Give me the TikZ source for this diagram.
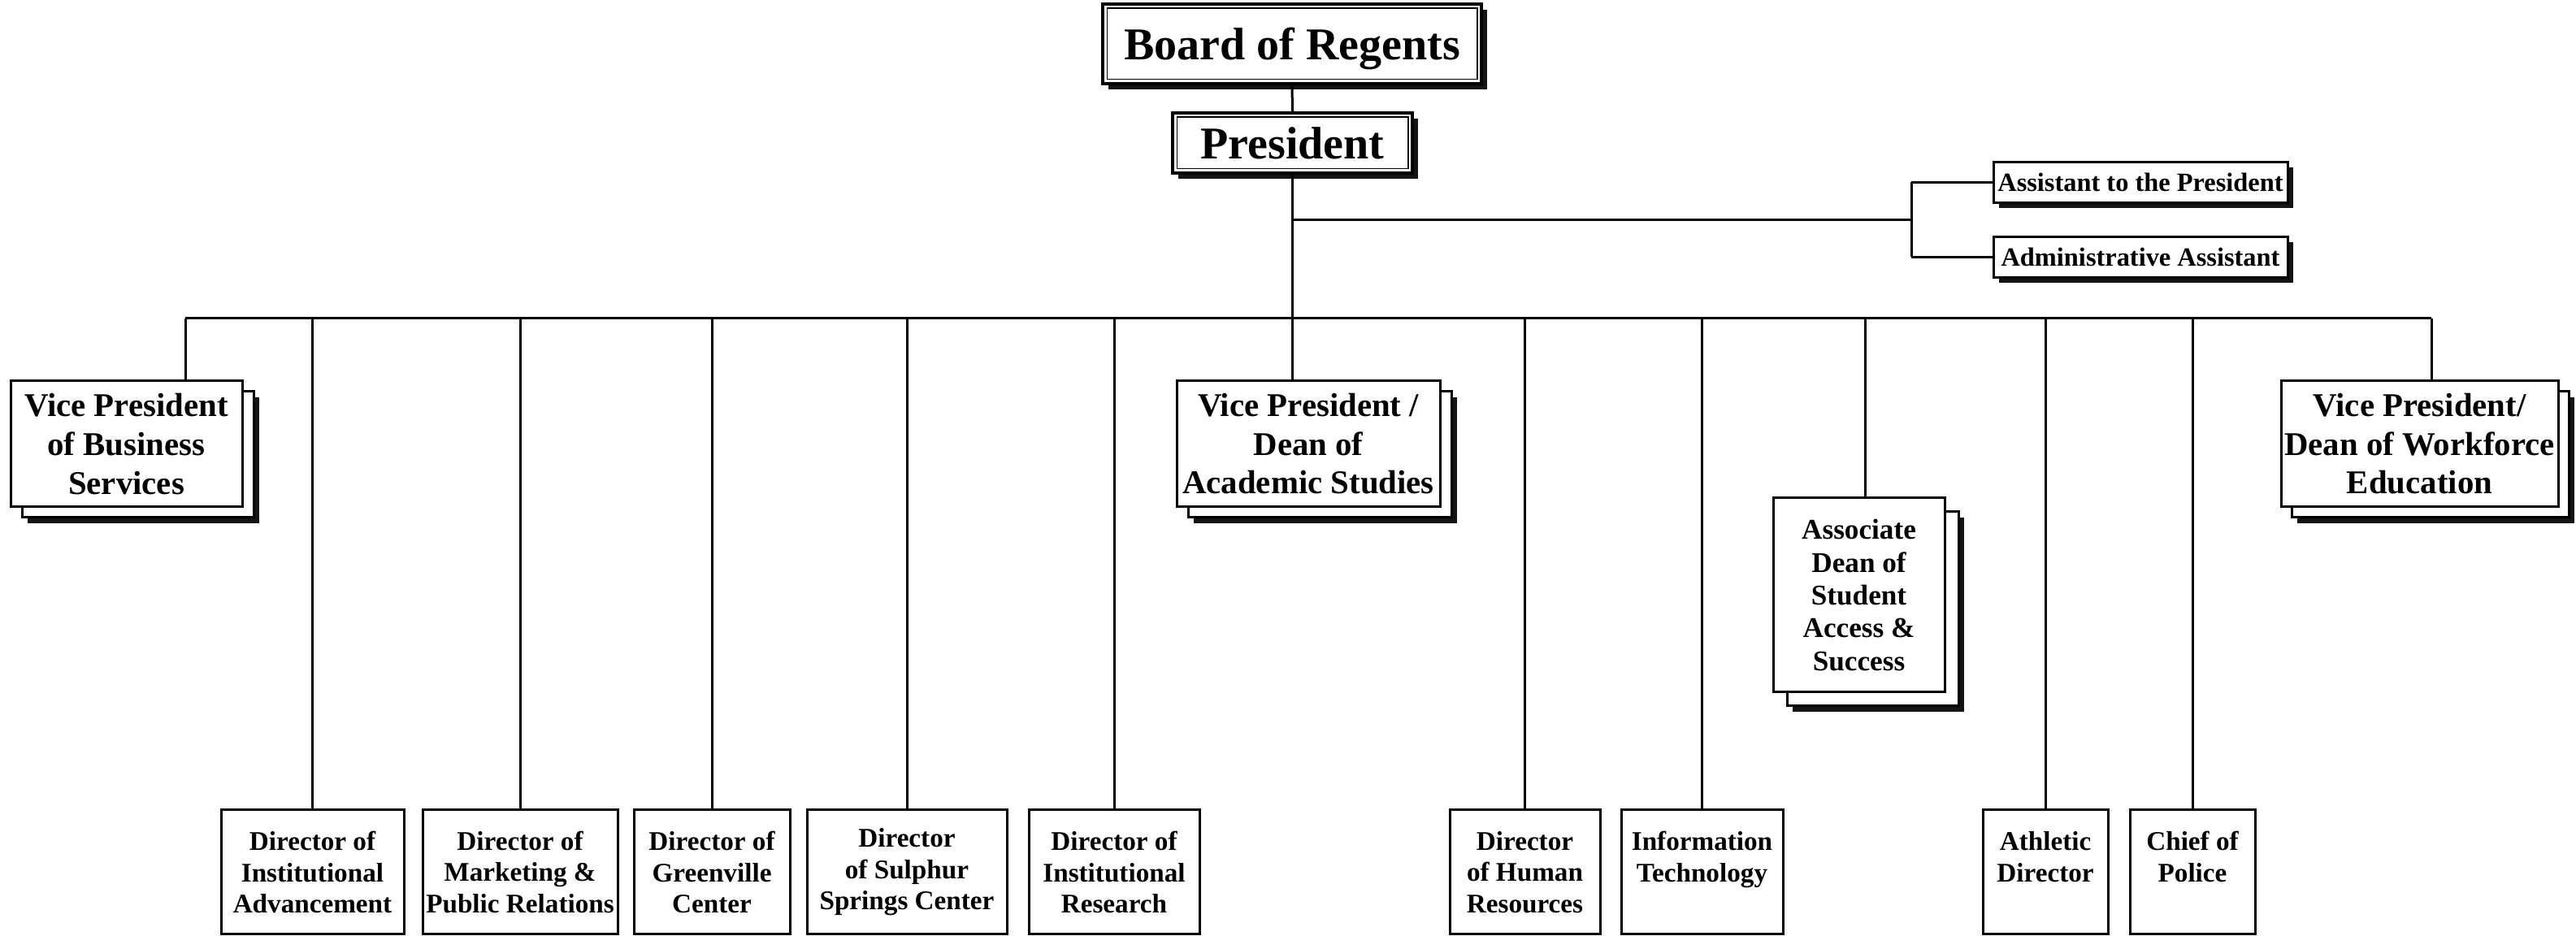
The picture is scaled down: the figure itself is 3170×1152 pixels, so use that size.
\documentclass[tikz,border=0pt]{standalone}
\usepackage{fontspec}
\setmainfont{Liberation Serif}
\usetikzlibrary{shadows}
\tikzset{
  box/.style={draw=black, line width=0.75pt, fill=white, inner sep=0pt, align=center},
  shad/.style={drop shadow={shadow xshift=1.7pt, shadow yshift=-1.7pt, opacity=1, fill=black!92}},
  topbox/.style={box, shad, line width=0.9pt, font=\bfseries\fontsize{14}{16}\selectfont},
  asbox/.style={box, shad, minimum width=90.5pt, minimum height=12.5pt, font=\bfseries\fontsize{8.1}{9.6}\selectfont},
  vpbox/.style={box, minimum height=38.75pt, font=\bfseries\fontsize{10.2}{11.9}\selectfont},
  vpback/.style={box, shad, minimum height=38.75pt},
  adbox/.style={box, minimum width=52.75pt, minimum height=59.75pt, font=\bfseries\fontsize{8.8}{10.1}\selectfont},
  adback/.style={box, shad, minimum width=52.75pt, minimum height=59.75pt},
  botbox/.style={box, minimum height=38.25pt, font=\bfseries\fontsize{8.3}{9.6}\selectfont},
  conn/.style={line width=0.75pt},
  inner/.style={line width=0.35pt}
}
\begin{document}
\begin{tikzpicture}[x=0.25pt, y=-0.25pt]
\useasboundingbox (0,0) rectangle (3170,1152);

% top
\node[topbox, text depth=0pt, minimum width=116.5pt, minimum height=24.5pt] (brd) at (1590,54) {Board of Regents};
\draw[inner] ([shift={(7,7)}]brd.north west) rectangle ([shift={(-7,-7)}]brd.south east);
\node[topbox, minimum width=73.75pt, minimum height=18.5pt] (pres) at (1590.5,176) {President};
\draw[inner] ([shift={(7,7)}]pres.north west) rectangle ([shift={(-7,-7)}]pres.south east);

% assistants
\node[asbox] (as1) at (2634,224.5) {Assistant to the President};
\node[asbox] (as2) at (2634,316.5) {Administrative Assistant};

% vice presidents (back sheets first)
\node[vpback, minimum width=71.25pt] (vpbB) at (169.5,559.5) {};
\node[vpbox, minimum width=71.25pt] (vpb) at (155.5,546.5) {Vice President\\of Business\\Services};
\node[vpback, minimum width=81pt] (vpaB) at (1624,559.5) {};
\node[vpbox, minimum width=81pt] (vpa) at (1610,546.5) {Vice President /\\Dean of\\Academic Studies};
\node[vpback, minimum width=85.25pt] (vpwB) at (2990.5,559.5) {};
\node[vpbox, minimum width=85.25pt] (vpw) at (2977.5,546.5) {Vice President/\\Dean of Workforce\\Education};

% associate dean
\node[adback] (adB) at (2305,749.5) {};
\node[adbox] (ad) at (2287.5,732.5) {Associate\\Dean of\\Student\\Access \&\\Success};

% bottom row
\node[botbox, minimum width=56.25pt] (b1) at (384.5,1073.5) {Director of\\Institutional\\Advancement};
\node[botbox, minimum width=60pt] (b2) at (640,1073.5) {Director of\\Marketing \&\\Public Relations};
\node[botbox, minimum width=48pt] (b3) at (876,1073.5) {Director of\\Greenville\\Center};
\node[botbox, minimum width=61.5pt] (b4) at (1116,1073.5) {Director\\of Sulphur\\Springs Center};
\node[botbox, minimum width=52.5pt] (b5) at (1371,1073.5) {Director of\\Institutional\\Research};
\node[botbox, minimum width=46.25pt] (b6) at (1876.5,1073.5) {Director\\of Human\\Resources};
\node[botbox, minimum width=49.75pt] (b7) at (2094.5,1073.5) {Information\\Technology\\\mbox{}};
\node[botbox, minimum width=38.5pt] (b8) at (2517,1073.5) {Athletic\\Director\\\mbox{}};
\node[botbox, minimum width=38.5pt] (b9) at (2698,1073.5) {Chief of\\Police\\\mbox{}};

% junction coordinates
\coordinate (busL) at (228,392);
\coordinate (busR) at (2992,392);
\coordinate (jP) at (1591,271);
\coordinate (jA) at (2352,271);
\coordinate (jD) at (2295,392);

% connectors
\draw[conn] (brd.south) -- (pres.north);
\draw[conn] (pres.south) -- (pres.south |- vpa.north);
\draw[conn] (busL) -- (busR);
\draw[conn] (jP) -- (jA);
\draw[conn] (jA |- as1.west) -- (jA |- as2.west);
\draw[conn] (jA |- as1.west) -- (as1.west);
\draw[conn] (jA |- as2.west) -- (as2.west);
\draw[conn] (busL) -- (busL |- vpb.north);
\draw[conn] (busR) -- (busR |- vpw.north);
\draw[conn] (jD) -- (jD |- ad.north);
\foreach \b in {b1,b2,b3,b4,b5,b6,b7,b8,b9}
  \draw[conn] (\b.north) -- (\b.north |- busL);
\end{tikzpicture}
\end{document}
